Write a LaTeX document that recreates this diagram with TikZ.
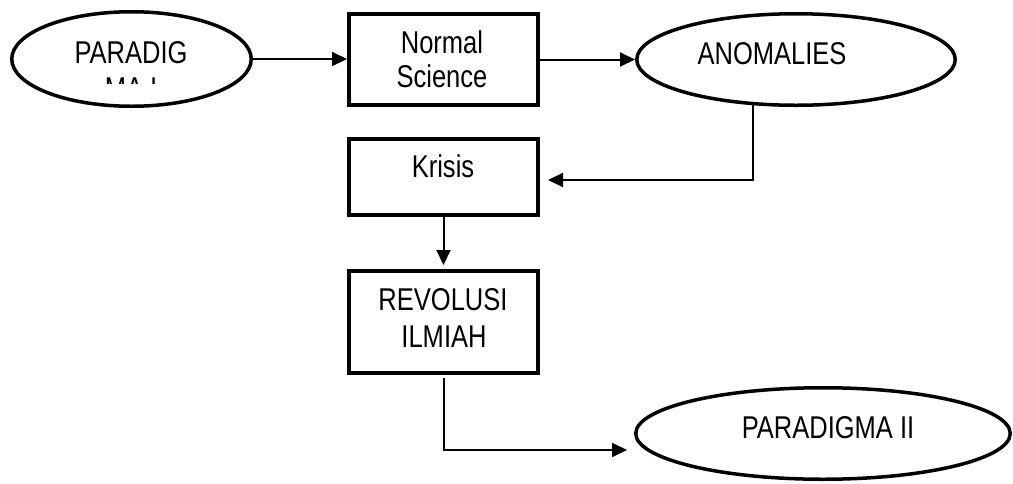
\documentclass[tikz,border=0pt]{standalone}
\usepackage{fontspec}
\setmainfont{Liberation Sans}[FakeStretch=0.81]
\usetikzlibrary{shapes.geometric,arrows.meta}

\begin{document}
\begin{tikzpicture}[x=1pt,y=-1pt,
  stepbox/.style={draw,line width=4pt,rectangle,inner sep=0pt},
  oval/.style={draw,line width=3.5pt,ellipse,inner sep=0pt},
  lbl/.style={anchor=base,inner sep=0pt,font=\fontsize{31.5pt}{36pt}\selectfont},
  conn/.style={line width=2pt,-{Triangle[length=15pt,width=14pt]}}]

  % canvas
  \fill[white] (0,0) rectangle (1013,483);
  \useasboundingbox (0,0) rectangle (1013,483);

  % shapes
  \node[oval,minimum width=239.5pt,minimum height=94.5pt] (par1) at (131.5,59) {};
  \node[stepbox,minimum width=189pt,minimum height=91pt] (ns) at (443.5,59.5) {};
  \node[oval,minimum width=318.5pt,minimum height=91.5pt] (anom) at (796,59.5) {};
  \node[stepbox,minimum width=189pt,minimum height=76pt] (kr) at (443.5,177) {};
  \node[stepbox,minimum width=189pt,minimum height=102pt] (rev) at (443.5,322) {};
  \node[oval,minimum width=374.5pt,minimum height=91.5pt] (par2) at (823,433.5) {};

  % texts
  \node[lbl] (t1) at (131,63) {PARADIG};
  \begin{scope}
    \clip (0,0) rectangle (260,83);
    \node[lbl] (t1b) at (131,99) {MA I};
  \end{scope}
  \node[lbl] (t2) at (442,53) {Normal};
  \node[lbl] (t2b) at (442,87) {Science};
  \node[lbl] (t3) at (772,64.5) {ANOMALIES};
  \node[lbl] (t4) at (443,177.7) {Krisis};
  \node[lbl] (t5) at (443,310) {REVOLUSI};
  \node[lbl] (t5b) at (444,347) {ILMIAH};
  \node[lbl] (t6) at (828,438) {PARADIGMA II};

  % connector ends
  \coordinate (krin) at (548,180);
  \coordinate (par2in) at (627,450);

  % connectors
  \draw[conn] (par1.east) -- (par1.east -| ns.west);
  \draw[conn] (ns.east) -- (ns.east -| anom.west);
  \draw[conn] (anom.-133) |- (krin);
  \draw[conn,shorten >=4pt] (kr.south) -- (rev.north);
  \draw[conn] ([yshift=-3pt]rev.south) |- (par2in);
\end{tikzpicture}
\end{document}
